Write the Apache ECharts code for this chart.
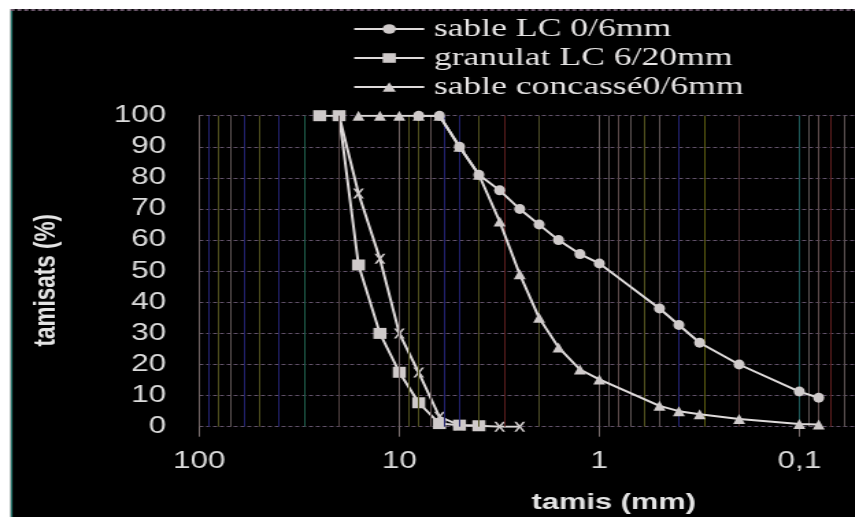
<!DOCTYPE html>
<html><head><meta charset="utf-8">
<script src="https://cdn.jsdelivr.net/npm/echarts/dist/echarts.min.js"></script>
<style>
html,body{margin:0;padding:0;background:#fff;overflow:hidden;width:855px;height:517px;}
#chart{position:absolute;left:0;top:0;height:517px;transform-origin:0 0;}
</style></head>
<body><div id="chart"></div>
<script>
// ---------- data ----------
const legendNames = ['sable LC 0/6mm', 'granulat LC 6/20mm', 'sable concassé0/6mm'];
const extraSeriesName = 'granulat LC 6/20mm (2)';

const sableLCSieves  = [8, 6.3, 5, 4, 3.15, 2.5, 2, 1.6, 1.25, 1, 0.5, 0.4, 0.315, 0.2, 0.1, 0.08];
const sableLCPassing = [100, 100, 90, 81, 76, 70, 65, 60, 55.5, 52.5, 38, 32.7, 27, 20, 11.3, 9.3];

const granulatSieves  = [25, 20, 16, 12.5, 10, 8, 6.3, 5, 4];
const granulatPassing = [100, 100, 52, 30, 17.5, 7.7, 1, 0.5, 0.3];

const concasseSieves  = [16, 12.5, 10, 8, 6.3, 5, 4, 3.15, 2.5, 2, 1.6, 1.25, 1, 0.5, 0.4, 0.315, 0.2, 0.1, 0.08];
const concassePassing = [100, 100, 100, 100, 100, 90, 81, 66, 49, 35, 25.5, 18.4, 15.2, 6.7, 5, 4, 2.5, 0.9, 0.7];

const extraSieves  = [20, 16, 12.5, 10, 8, 6.3, 5, 4, 3.15, 2.5];
const extraPassing = [100, 75, 54, 30, 17.4, 3.2, 0.5, 0.3, 0, 0];

const xTickValues = [100, 10, 1, 0.1, 0.01];
const xTickLabels = ['100', '10', '1', '0,1', '0,01'];
const xAxisTitle = 'tamis (mm)';
const yAxisTitle = 'tamisats (%)';

// ---------- styling ----------
const S = 1.37;                       // horizontal stretch of the reference picture
const u = px => px / S;               // image px -> unscaled chart px
const gridColors = [
  ['#6e6262','#22226e','#50501e','#5e5454','#22226e','#50501e','#22226e','#1e5a48','#4c3e3e'],
  ['#6e6262','#50501e','#50501e','#5e5050','#22226e','#22226e','#50501e','#5a1e1e','#4a4a26'],
  ['#6e6262','#5e5454','#5e4c4c','#5e5454','#50501e','#5e5454','#22226e','#5a5a10','#4c2e2e'],
  ['#1e5a5a','#5e5454','#5e4c4c','#5a1e1e','#5e5454','#50501e','#22226e','#4a4a26','#4c3e3e']
];
const lineCol = '#dedada';
const markCol = '#cfcaca';
const xPath = 'path://M0,0 L2.2,0 L5,3.6 L7.8,0 L10,0 L6.3,5 L10,10 L7.8,10 L5,6.4 L2.2,10 L0,10 L3.7,5 Z';

const pairs = (xs, ys) => xs.map((x, i) => [x, ys[i]]);

// vertical log grid lines (1..9 per decade)
const vLines = [];
[100, 10, 1, 0.1].forEach((d, di) => {
  for (let k = 10; k >= 2; k--) {
    vLines.push({ xAxis: d * k / 10, lineStyle: { color: gridColors[di][10 - k], width: 1, type: 'solid' } });
  }
});
vLines.push({ xAxis: 0.01, lineStyle: { color: '#6e6262', width: 1, type: 'solid' } });

const dom = document.getElementById('chart');
dom.style.width = (855 / S) + 'px';
dom.style.transform = 'scaleX(' + S + ')';
const chart = echarts.init(dom, null, { renderer: 'canvas' });

const gridLeft = u(199.3), gridTop = 115.7, gridW = u(800), gridH = 311;

chart.setOption({
  animation: false,
  backgroundColor: '#000',
  graphic: [
    { type: 'rect', left: 0, top: 0, shape: { width: u(855), height: 9 }, style: { fill: '#fff' }, z: 100 },
    { type: 'rect', left: 0, top: 0, shape: { width: u(10.5), height: 517 }, style: { fill: '#fff' }, z: 100 },
    { type: 'rect', left: u(10.5), top: 9, shape: { width: u(2), height: 508 }, style: { fill: '#1f6f66' }, z: 99 },
    { type: 'line', shape: { x1: u(10.5), y1: 10, x2: u(855), y2: 10 }, style: { stroke: '#6a566a', lineWidth: 2, lineDash: [3, 2] }, z: 99 }
  ],
  legend: {
    orient: 'vertical',
    left: u(346), top: 9.5,
    itemWidth: u(70), itemHeight: 12, itemGap: 0,
    data: legendNames,
    textStyle: { fontFamily: 'Liberation Serif', fontSize: 26, color: '#e6e4e4', lineHeight: 29, padding: [0, 0, 0, 2] }
  },
  grid: { left: gridLeft, top: gridTop, width: gridW, height: gridH, containLabel: false, outerBoundsMode: 'none' },
  xAxis: {
    type: 'log', logBase: 10, min: 0.01, max: 100, inverse: true,
    axisLine: { show: false },
    axisTick: { show: true, length: 10, lineStyle: { color: '#7a6e6e', width: 1 } },
    splitLine: { show: false },
    axisLabel: {
      margin: 23, fontFamily: 'Liberation Sans', fontSize: 23, color: '#dcdcdc',
      formatter: v => {
        const i = xTickValues.findIndex(t => Math.abs(Math.log10(t) - Math.log10(v)) < 1e-6);
        return i >= 0 ? xTickLabels[i] : '';
      }
    },
    name: xAxisTitle, nameLocation: 'middle', nameGap: 65,
    nameTextStyle: { fontFamily: 'Liberation Sans', fontWeight: 'bold', fontSize: 22.5, color: '#e4e4e4', padding: [0, 0, 0, 21] }
  },
  yAxis: {
    type: 'value', min: 0, max: 100, interval: 10,
    axisLine: { show: true, lineStyle: { color: '#786a6a', width: 1 } },
    axisTick: { show: false },
    splitLine: { show: true, lineStyle: { color: '#62526a', width: 1, type: [3, 2] } },
    axisLabel: { margin: u(33), fontFamily: 'Liberation Sans', fontSize: 23, color: '#dcdcdc' },
    name: yAxisTitle, nameLocation: 'middle', nameGap: 100, nameRotate: 90,
    nameTextStyle: { fontFamily: 'Liberation Sans', fontWeight: 'bold', fontSize: 22.5, color: '#e4e4e4', padding: [0, 18, 0, 0] }
  },
  series: [
    {
      name: 'grid', type: 'line', data: [], silent: true, z: 1,
      markLine: { silent: true, symbol: 'none', label: { show: false }, animation: false, data: vLines }
    },
    {
      name: legendNames[0], type: 'line', z: 6,
      data: pairs(sableLCSieves, sableLCPassing),
      symbol: 'circle', symbolSize: [u(11), 10],
      lineStyle: { color: lineCol, width: 2 },
      itemStyle: { color: markCol }
    },
    {
      name: legendNames[1], type: 'line', z: 4,
      data: pairs(granulatSieves, granulatPassing),
      symbol: 'rect', symbolSize: [u(13), 11],
      lineStyle: { color: lineCol, width: 2 },
      itemStyle: { color: markCol }
    },
    {
      name: legendNames[2], type: 'line', z: 5,
      data: pairs(concasseSieves, concassePassing),
      symbol: 'triangle', symbolSize: [u(12), 10],
      lineStyle: { color: lineCol, width: 2 },
      itemStyle: { color: markCol }
    },
    {
      name: extraSeriesName, type: 'line', z: 3,
      data: pairs(extraSieves, extraPassing),
      symbol: xPath, symbolSize: [u(11), 10],
      lineStyle: { color: lineCol, width: 2 },
      itemStyle: { color: markCol }
    }
  ]
});
</script>
</body></html>
